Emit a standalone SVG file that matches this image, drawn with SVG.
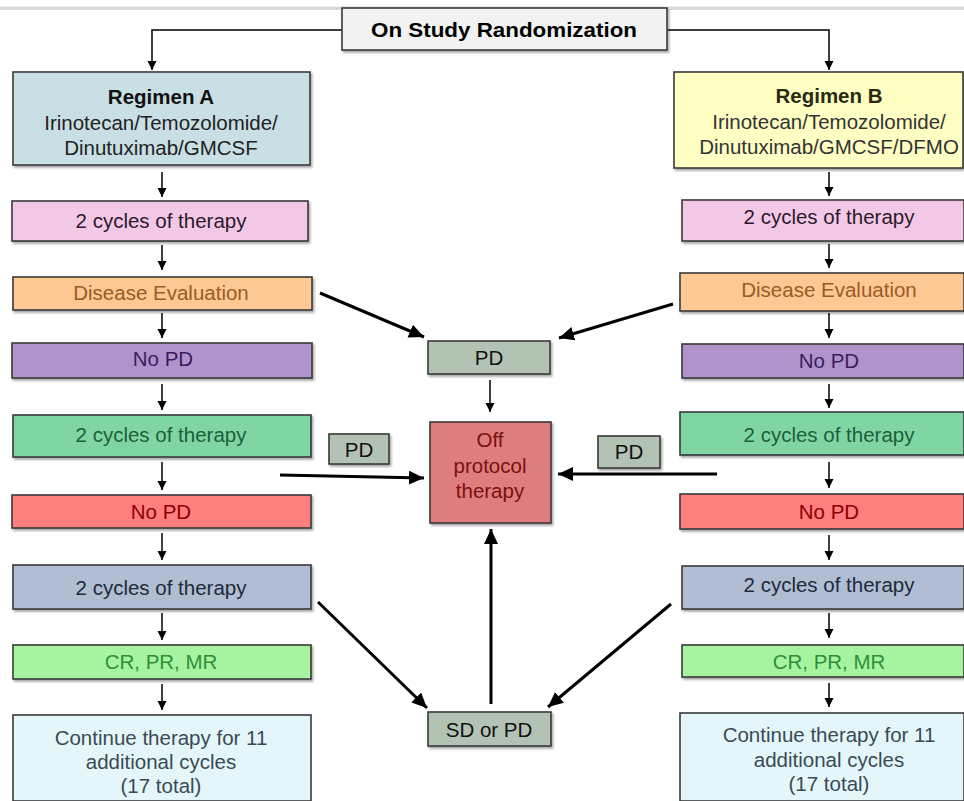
<svg xmlns="http://www.w3.org/2000/svg" width="964" height="801" viewBox="0 0 964 801">
<style>
  text { font-family: "Liberation Sans", Arial, sans-serif; font-size: 20.5px; text-anchor: middle; }
  .box { stroke: #3a3a3a; stroke-width: 1.6; }
  .thin { stroke: #000; stroke-width: 1.5; fill: none; }
  .thick { stroke: #000; stroke-width: 3; fill: none; }
  .b { font-weight: bold; }
</style>
<defs>
  <marker id="ah" markerUnits="userSpaceOnUse" markerWidth="10" markerHeight="10" refX="9" refY="5" orient="auto">
    <path d="M0,0.5 L9,5 L0,9.5 Z" fill="#000"/>
  </marker>
  <marker id="ahb" markerUnits="userSpaceOnUse" markerWidth="16" markerHeight="14" refX="15" refY="7" orient="auto">
    <path d="M0,0 L15,7 L0,14 Z" fill="#000"/>
  </marker>
  <filter id="sh" x="-5%" y="-5%" width="115%" height="125%">
    <feDropShadow dx="1.5" dy="2" stdDeviation="1" flood-color="#000" flood-opacity="0.35"/>
  </filter>
</defs>
<rect x="0" y="0" width="964" height="801" fill="#fff"/>
<rect x="0" y="6.5" width="964" height="3.5" fill="#d9d9d9"/>

<g id="connectors">
  <path class="thin" d="M342,30 H152 V70" marker-end="url(#ah)"/>
  <path class="thin" d="M668,30 H829 V70" marker-end="url(#ah)"/>
  <path class="thin" d="M162,172 V197" marker-end="url(#ah)"/>
  <path class="thin" d="M162,245 V270" marker-end="url(#ah)"/>
  <path class="thin" d="M162,313 V338" marker-end="url(#ah)"/>
  <path class="thin" d="M162,384 V410" marker-end="url(#ah)"/>
  <path class="thin" d="M162,462 V490" marker-end="url(#ah)"/>
  <path class="thin" d="M162,533 V560" marker-end="url(#ah)"/>
  <path class="thin" d="M162,613 V640" marker-end="url(#ah)"/>
  <path class="thin" d="M162,684 V710" marker-end="url(#ah)"/>
  <path class="thin" d="M829,172 V196" marker-end="url(#ah)"/>
  <path class="thin" d="M829,244 V268" marker-end="url(#ah)"/>
  <path class="thin" d="M829,313 V338" marker-end="url(#ah)"/>
  <path class="thin" d="M829,384 V408" marker-end="url(#ah)"/>
  <path class="thin" d="M829,462 V488" marker-end="url(#ah)"/>
  <path class="thin" d="M829,535 V560" marker-end="url(#ah)"/>
  <path class="thin" d="M829,613 V638" marker-end="url(#ah)"/>
  <path class="thin" d="M829,683 V707" marker-end="url(#ah)"/>
  <path class="thin" d="M490,380 V412" marker-end="url(#ah)"/>
  <path class="thick" d="M320,293 L424,337" marker-end="url(#ahb)"/>
  <path class="thick" d="M673,304 L559,338" marker-end="url(#ahb)"/>
  <path class="thick" d="M280,475 L424,478" marker-end="url(#ahb)"/>
  <path class="thick" d="M717,474 L558,474" marker-end="url(#ahb)"/>
  <path class="thick" d="M318,602 L427,708" marker-end="url(#ahb)"/>
  <path class="thick" d="M671,604 L548,707" marker-end="url(#ahb)"/>
  <path class="thick" d="M491,704 V529" marker-end="url(#ahb)"/>
</g>

<g id="title">
  <rect class="box" x="342" y="8" width="325" height="42" fill="#f2f2f2" filter="url(#sh)"/>
  <text class="b" x="504" y="37" font-size="22" textLength="266" lengthAdjust="spacingAndGlyphs">On Study Randomization</text>
</g>

<g id="regimenA">
  <rect class="box" x="13" y="72" width="297" height="93" fill="#c8dfe4" filter="url(#sh)"/>
  <text class="b" x="161" y="104" fill="#111">Regimen A</text>
  <text x="161" y="130" fill="#222">Irinotecan/Temozolomide/</text>
  <text x="161" y="155" fill="#222">Dinutuximab/GMCSF</text>
</g>
<g id="regimenB">
  <rect class="box" x="674" y="72" width="289" height="96" fill="#ffffc4" filter="url(#sh)"/>
  <text class="b" x="829" y="103" fill="#2a2a10">Regimen B</text>
  <text x="829" y="129" fill="#333">Irinotecan/Temozolomide/</text>
  <text x="829" y="154" fill="#333">Dinutuximab/GMCSF/DFMO</text>
</g>

<g id="a-cycles1">
  <rect class="box" x="12" y="201" width="296" height="40" fill="#f3c8e7" filter="url(#sh)"/>
  <text x="161" y="228" fill="#2a1a2a">2 cycles of therapy</text>
</g>
<g id="b-cycles1">
  <rect class="box" x="682" y="200" width="282" height="41" fill="#f3c8e7" filter="url(#sh)"/>
  <text x="829" y="224" fill="#2a1a2a">2 cycles of therapy</text>
</g>

<g id="a-eval">
  <rect class="box" x="13" y="277" width="299" height="33" fill="#fdc893" filter="url(#sh)"/>
  <text x="161" y="300" fill="#9a5b27">Disease Evaluation</text>
</g>
<g id="b-eval">
  <rect class="box" x="680" y="273" width="284" height="38" fill="#fdc893" filter="url(#sh)"/>
  <text x="829" y="297" fill="#9a5b27">Disease Evaluation</text>
</g>

<g id="a-nopd1">
  <rect class="box" x="12" y="343" width="300" height="35" fill="#b193cc" filter="url(#sh)"/>
  <text x="163" y="366" fill="#3b1c5e">No PD</text>
</g>
<g id="b-nopd1">
  <rect class="box" x="682" y="344" width="282" height="34" fill="#b193cc" filter="url(#sh)"/>
  <text x="829" y="368" fill="#3b1c5e">No PD</text>
</g>

<g id="a-cycles2">
  <rect class="box" x="13" y="415" width="298" height="42" fill="#7fd6a3" filter="url(#sh)"/>
  <text x="161" y="442" fill="#1e5f3b">2 cycles of therapy</text>
</g>
<g id="b-cycles2">
  <rect class="box" x="680" y="412" width="284" height="43" fill="#7fd6a3" filter="url(#sh)"/>
  <text x="829" y="442" fill="#1e5f3b">2 cycles of therapy</text>
</g>

<g id="a-nopd2">
  <rect class="box" x="12" y="495" width="299" height="33" fill="#ff7f7f" filter="url(#sh)"/>
  <text x="161" y="519" fill="#8b0000">No PD</text>
</g>
<g id="b-nopd2">
  <rect class="box" x="680" y="494" width="284" height="35" fill="#ff7f7f" filter="url(#sh)"/>
  <text x="829" y="519" fill="#8b0000">No PD</text>
</g>

<g id="a-cycles3">
  <rect class="box" x="13" y="565" width="298" height="44" fill="#b0bdd3" filter="url(#sh)"/>
  <text x="161" y="595" fill="#1f2a3a">2 cycles of therapy</text>
</g>
<g id="b-cycles3">
  <rect class="box" x="682" y="566" width="282" height="43" fill="#b0bdd3" filter="url(#sh)"/>
  <text x="829" y="592" fill="#1f2a3a">2 cycles of therapy</text>
</g>

<g id="a-response">
  <rect class="box" x="13" y="645" width="298" height="34" fill="#a7f4a0" filter="url(#sh)"/>
  <text x="161" y="669" fill="#2f8f3a">CR, PR, MR</text>
</g>
<g id="b-response">
  <rect class="box" x="682" y="645" width="282" height="32" fill="#a7f4a0" filter="url(#sh)"/>
  <text x="829" y="669" fill="#2f8f3a">CR, PR, MR</text>
</g>

<g id="a-continue">
  <rect class="box" x="13" y="715" width="298" height="86" fill="#e5f6fb"/>
  <text x="161" y="745" fill="#3a4a55">Continue therapy for 11</text>
  <text x="161" y="769" fill="#3a4a55">additional cycles</text>
  <text x="161" y="793" fill="#3a4a55">(17 total)</text>
</g>
<g id="b-continue">
  <rect class="box" x="680" y="713" width="284" height="88" fill="#e5f6fb"/>
  <text x="829" y="742" fill="#3a4a55">Continue therapy for 11</text>
  <text x="829" y="767" fill="#3a4a55">additional cycles</text>
  <text x="829" y="791" fill="#3a4a55">(17 total)</text>
</g>

<g id="pd-top">
  <rect class="box" x="428" y="341" width="122" height="33" fill="#b3c3b3" filter="url(#sh)"/>
  <text x="489" y="365" fill="#111">PD</text>
</g>
<g id="pd-left">
  <rect class="box" x="329" y="434" width="60" height="30" fill="#b3c3b3" filter="url(#sh)"/>
  <text x="359" y="457" fill="#111">PD</text>
</g>
<g id="pd-right">
  <rect class="box" x="598" y="436" width="62" height="32" fill="#b3c3b3" filter="url(#sh)"/>
  <text x="629" y="459" fill="#111">PD</text>
</g>

<g id="off-protocol">
  <rect class="box" x="430" y="422" width="121" height="101" fill="#dd7d7d" filter="url(#sh)"/>
  <text x="490" y="447" fill="#7a1010">Off</text>
  <text x="490" y="473" fill="#7a1010">protocol</text>
  <text x="490" y="498" fill="#7a1010">therapy</text>
</g>

<g id="sd-pd">
  <rect class="box" x="428" y="712" width="123" height="34" fill="#b3c3b3" filter="url(#sh)"/>
  <text x="489" y="737" fill="#111">SD or PD</text>
</g>
</svg>
